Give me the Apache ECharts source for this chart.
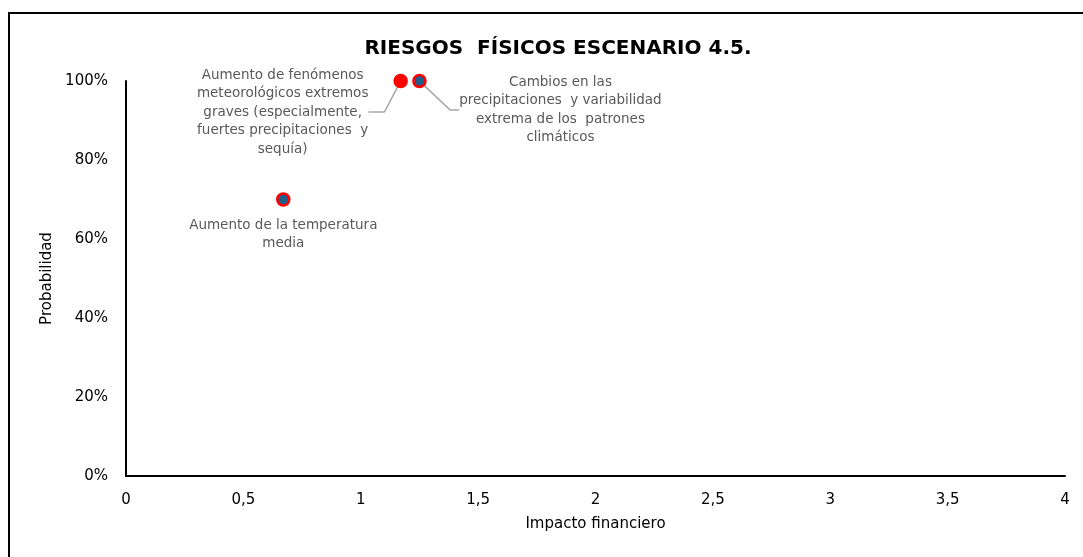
<!DOCTYPE html>
<html>
<head>
<meta charset="utf-8">
<script src="https://cdn.jsdelivr.net/npm/echarts@6/dist/echarts.min.js"></script>
<style>
  html, body { margin: 0; padding: 0; background: #fff; }
  #wrap { position: relative; width: 1083px; height: 557px; overflow: hidden; }
  #chart { width: 1083px; height: 557px; }
  #frame { position: absolute; left: 8px; top: 12px; width: 1200px; height: 700px;
           border-left: 2px solid #000; border-top: 2px solid #000; pointer-events: none; }
</style>
</head>
<body>
<div id="wrap">
  <div id="chart"></div>
  <div id="frame"></div>
</div>
<script>
// riesgos físicos - escenario 4.5
var riskNames = [
    'Aumento de la temperatura\nmedia',
    'Aumento de fenómenos\nmeteorológicos extremos\ngraves (especialmente,\nfuertes precipitaciones  y\nsequía)',
    'Cambios en las\nprecipitaciones  y variabilidad\nextrema de los  patrones\nclimáticos'
];
var impacto = [0.67, 1.17, 1.25];
var probabilidad = [0.70, 1.00, 1.00];

// desplazamiento de las etiquetas (px)
var labelShift = [
    { dx: 0, dy: 35, line: false, len2: 0 },
    { dx: -118, dy: 31, line: true, len2: 16 },
    { dx: 141, dy: 29, line: true, len2: 9 }
];
var fillColors = ['#1F5F8B', '#FF0000', '#1F5F8B'];

var myChart = echarts.init(document.getElementById('chart'));

var puntos = [];
for (var i = 0; i < impacto.length; i++) {
    puntos.push({
        name: riskNames[i],
        value: [impacto[i], probabilidad[i]],
        itemStyle: { color: fillColors[i], borderColor: '#FF0000', borderWidth: 2.5, opacity: 1 },
        labelLine: { show: labelShift[i].line, length2: labelShift[i].len2 }
    });
}

var option = {
    animation: false,
    title: {
        text: 'RIESGOS  FÍSICOS ESCENARIO 4.5.',
        left: 553,
        textAlign: 'center',
        top: 34,
        textStyle: { fontFamily: 'DejaVu Sans', fontSize: 20, fontWeight: 'bold', color: '#000' }
    },
    grid: { left: 126, right: 18, top: 81, bottom: 81 },
    xAxis: {
        type: 'value',
        min: 0,
        max: 4,
        interval: 0.5,
        name: 'Impacto financiero',
        nameLocation: 'middle',
        nameGap: 41,
        nameTextStyle: { fontFamily: 'DejaVu Sans', fontSize: 15, color: '#000' },
        axisLine: { show: true, lineStyle: { color: '#000', width: 2 } },
        axisTick: { show: false },
        splitLine: { show: false },
        axisLabel: {
            margin: 17,
            fontFamily: 'DejaVu Sans', fontSize: 15, color: '#000',
            formatter: function (v) { return String(v).replace('.', ','); }
        }
    },
    yAxis: {
        type: 'value',
        min: 0,
        max: 1,
        interval: 0.2,
        name: 'Probabilidad',
        nameLocation: 'middle',
        nameGap: 70,
        nameTextStyle: { fontFamily: 'DejaVu Sans', fontSize: 15, color: '#000' },
        axisLine: { show: true, lineStyle: { color: '#000', width: 2 } },
        axisTick: { show: false },
        splitLine: { show: false },
        axisLabel: {
            margin: 18,
            fontFamily: 'DejaVu Sans', fontSize: 15, color: '#000',
            formatter: function (v) { return Math.round(v * 100) + '%'; }
        }
    },
    series: [{
        type: 'scatter',
        symbolSize: 12,
        data: puntos,
        label: {
            show: true,
            position: 'inside',
            formatter: '{b}',
            fontFamily: 'DejaVu Sans',
            fontSize: 13.5,
            lineHeight: 18.5,
            color: '#595959',
            align: 'center'
        },
        labelLine: {
            show: true,
            lineStyle: { color: '#A6A6A6', width: 1.5 }
        },
        labelLayout: function (params) {
            var s = labelShift[params.dataIndex];
            return { dx: s.dx, dy: s.dy };
        }
    }]
};

myChart.setOption(option);
</script>
</body>
</html>
